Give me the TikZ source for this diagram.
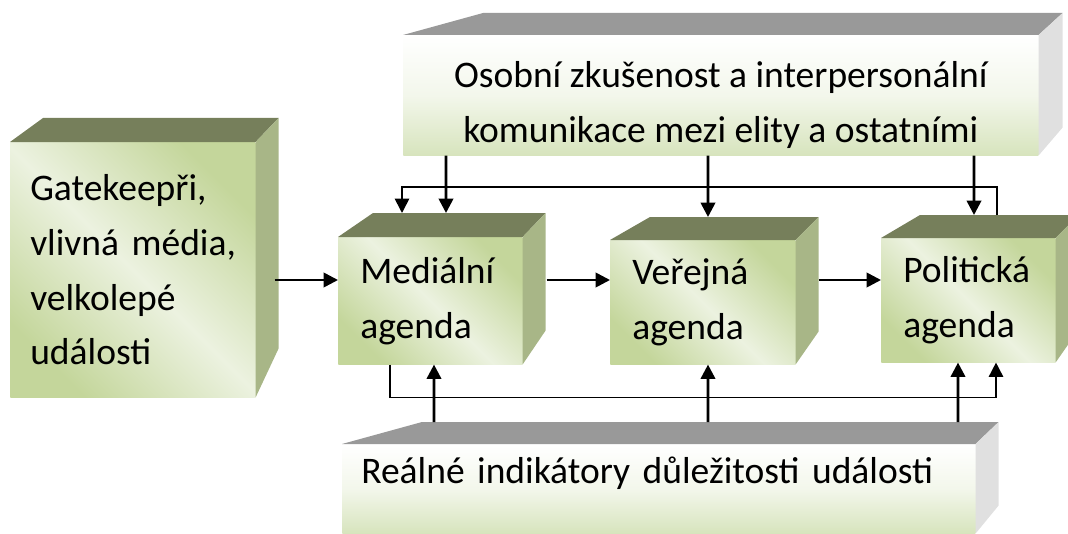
\documentclass[tikz,border=0pt]{standalone}
\usepackage{fontspec}
\setmainfont{Carlito}
\usetikzlibrary{calc,arrows.meta}
\definecolor{olivetop}{RGB}{118,127,91}
\definecolor{oliveside}{RGB}{168,182,135}
\definecolor{olivegreen}{RGB}{196,214,155}
\definecolor{olivepale}{RGB}{236,242,224}
\definecolor{greytop}{RGB}{153,153,153}
\definecolor{greyside}{RGB}{224,224,224}
\definecolor{sagegreen}{RGB}{215,228,189}
\def\cube[#1:#2](#3)(#4:#5:#6:#7){%
  \fill[#1] (#3.north west) -- ++(#4,#6) -- ($(#3.north east)+(#5,#6)$) -- (#3.north east) -- cycle;
  \fill[#2] (#3.north east) -- ++(#5,#6) -- ($(#3.south east)+(#5,#7)$) -- (#3.south east) -- cycle;}
\tikzset{
  smallface/.style={anchor=north west, inner xsep=0.55cm, inner ysep=0pt, align=left,
    top color=olivegreen, bottom color=olivegreen, middle color=olivepale, shading angle=-45,
    font=\fontsize{26.7}{39}\selectfont},
  bigface/.style={anchor=north west, inner ysep=0pt, top color=white, bottom color=sagegreen,
    middle color=white!70!sagegreen, font=\fontsize{26.7}{39}\selectfont},
  arr/.style={line width=1.9pt, -{Triangle[length=0.36cm,width=0.36cm]}},
  feedback/.style={line width=1.2pt, -{Triangle[length=0.36cm,width=0.36cm]}},
}
\begin{document}
\begin{tikzpicture}
			%%%%% START %%%%%
			\useasboundingbox (0,0) rectangle (26.7,13.325);
			
			\node[bigface, minimum width=15.875cm, minimum height=3cm, align=center, text height=2.675cm, text depth=0.325cm] (osobni) at (10.075, 12.45)
				{Osobní zkušenost a interpersonální\\komunikace mezi elity a ostatními};
			\cube[greytop:greyside](osobni)(2:0.6:0.55:0.7);
			
			\node[smallface, minimum width=6.125cm, minimum height=6.375cm, inner xsep=0.5cm, text width=5.125cm] (gate) at (0.25, 9.775)
				{Gatekeepři,\\\mbox{vlivná média,}\\velkolepé\\události};
			\cube[olivetop:oliveside](gate)(0.825:0.575:0.6:1.225);
			
			\node[smallface, minimum width=4.6cm, minimum height=3.175cm, text width=3.5cm] (media) at (8.45, 7.4)
				{Mediální\\agenda};
			\cube[olivetop:oliveside](media)(0.875:0.575:0.6:0.85);
			
			\node[smallface, minimum width=4.625cm, minimum height=3.1cm, text width=3.525cm] (verejna) at (15.25, 7.325)
				{Veřejná\\agenda};
			\cube[olivetop:oliveside](verejna)(1:0.575:0.575:0.825);
			
			\node[smallface, minimum width=4.35cm, minimum height=3.1cm, text width=3.25cm] (politicka) at (22.025, 7.375)
				{Politická\\agenda};
			\cube[olivetop:oliveside](politicka)(0.975:0.575:0.575:0.825);
			
			\node[bigface, minimum width=15.825cm, minimum height=2.225cm, inner xsep=0.475cm, text width=14.875cm,
				align=left, text height=0.975cm, text depth=1.25cm] (realne) at (8.55, 2.225)
				{Reálné indikátory důležitosti události};
			\cube[greytop:greyside](realne)(2:0.575:0.55:0.7);
			
			% main chain
			\coordinate (row) at (0, 6.325);
			\draw[arr] ($(gate.east |- row)+(0.475,0)$) -- (media.west |- row);
			\draw[arr] ($(media.east |- row)+(0.6,0)$) -- (verejna.west |- row);
			\draw[arr] ($(verejna.east |- row)+(0.575,0)$) -- (politicka.west |- row);
			
			% from above
			\draw[arr] ($(osobni.south west)+(1.075,0)$) -- ($(media.north west)+(2.7,0.6)$);
			\draw[arr] ($(osobni.south west)+(7.625,0)$) -- ($(verejna.north west)+(2.45,0.575)$);
			\draw[arr] ($(osobni.south west)+(14.275,0)$) -- ($(politicka.north west)+(2.325,0.575)$);
			\draw[feedback] ($(politicka.north west)+(2.9,0.575)$) -- ++(0,0.7) -| ($(media.north west)+(1.6,0.6)$);
			
			% from below
			\draw[arr] ($(realne.north west)+(2.3,0.55)$) -- ($(media.south west)+(2.4,0)$);
			\draw[arr] ($(realne.north west)+(9.15,0.55)$) -- ($(verejna.south west)+(2.45,0)$);
			\draw[arr] ($(realne.north west)+(15.4,0.55)$) -- ($(politicka.south west)+(1.925,0)$);
			\draw[feedback] ($(media.south west)+(1.3,0)$) -- ++(0,-0.825) -| ($(politicka.south west)+(2.875,0)$);
			
			%%%%% END %%%%%
		\end{tikzpicture}
\end{document}
